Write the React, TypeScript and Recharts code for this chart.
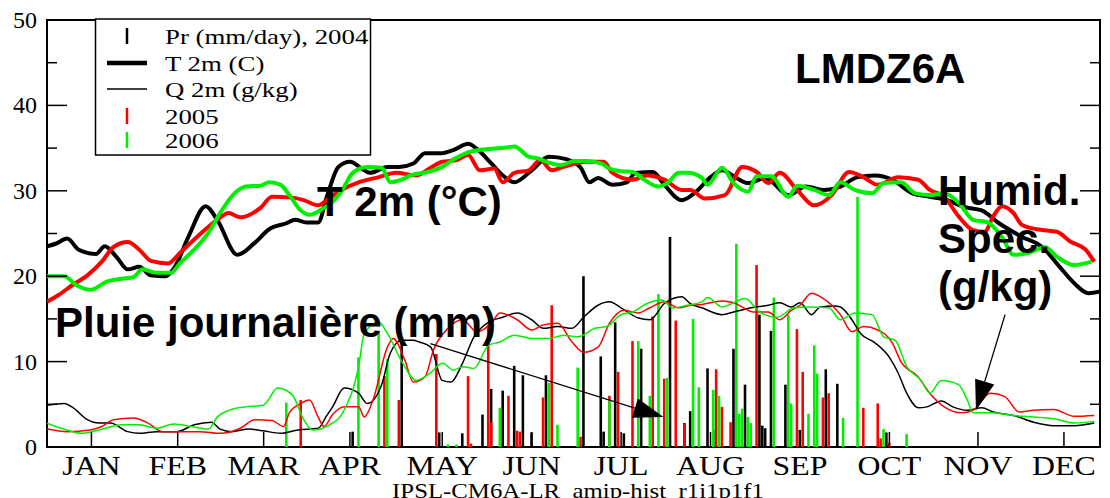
import React from 'react';
import { ComposedChart, Line, Bar, XAxis, YAxis, ReferenceArea, ReferenceLine } from 'recharts';

const SERIF = '"Liberation Serif", "Times New Roman", Times, serif';
const SANS = '"Liberation Sans", Arial, Helvetica, sans-serif';

const MONTHS = ['JAN', 'FEB', 'MAR', 'APR', 'MAY', 'JUN', 'JUL', 'AUG', 'SEP', 'OCT', 'NOV', 'DEC'];
const MONTH_TICKS = [15.4, 45.3, 75.1, 105, 137, 168, 199, 230, 261, 292, 322.7, 352.5];
const Y_TICKS = [0, 5, 10, 15, 20, 25, 30, 35, 40, 45, 50];

// 2 m temperature (°C), [day, value]
const T2004: [number, number][] = [[0,23.5],[3,23.8],[7,24.4],[11,23.1],[17,22.6],[20,23.5],[24,22.3],[28,20.8],[32,21.1],[36,20.1],[41,20.0],[44,20.9],[49,24.6],[55,28.2],[59,26.6],[66,22.5],[72,23.9],[77,25.5],[83,26.2],[86,26.6],[90,26.3],[94,26.3],[97,29.3],[101,32.8],[105,33.4],[110,32.4],[112,32.1],[118,32.8],[122,32.8],[127,33.2],[131,34.4],[137,34.4],[141,34.8],[146,35.5],[149,34.9],[154,33.2],[158,31.8],[162,31.0],[168,32.4],[174,34.0],[180,33.7],[185,32.7],[188,31.0],[191,31.5],[196,30.7],[201,31.0],[204,32.1],[210,32.2],[214,30.7],[220,28.9],[225,29.9],[230,31.6],[234,32.4],[239,31.5],[243,30.9],[249,31.5],[257,29.5],[263,30.5],[269,30.1],[275,30.5],[281,31.6],[287,31.8],[293,31.3],[300,29.7],[306,29.3],[312,28.9],[318,28.1],[324,27.7],[330,26.2],[338,24.6],[345,23.4],[351,21.1],[356,19.2],[361,18.0],[365,18.2]];
const T2005: [number, number][] = [[0,17.0],[4,17.8],[9,19.0],[14,20.1],[19,21.7],[23,23.4],[28,24.0],[32,23.1],[36,21.8],[42,21.5],[46,22.7],[52,24.6],[59,26.6],[63,27.4],[67,26.9],[74,28.0],[78,29.3],[85,29.2],[89,28.9],[94,28.3],[98,29.2],[102,30.1],[108,31.0],[115,31.6],[121,32.1],[128,31.8],[133,32.7],[137,33.4],[142,33.6],[146,34.2],[150,32.4],[155,32.6],[158,31.0],[162,32.1],[167,32.4],[171,33.6],[175,32.4],[179,32.8],[187,33.4],[193,33.4],[196,32.1],[203,31.3],[208,31.8],[214,31.3],[220,30.1],[223,30.1],[228,29.1],[235,29.5],[241,32.8],[246,32.2],[250,30.9],[254,32.1],[260,30.1],[266,28.3],[272,29.5],[278,32.2],[283,31.6],[288,30.7],[295,31.6],[302,31.3],[306,30.1],[311,29.3],[316,27.0],[321,25.4],[325,25.2],[328,27.0],[331,28.2],[335,27.4],[338,26.0],[345,25.4],[350,25.2],[355,24.0],[360,23.1],[363,21.7]];
const T2006: [number, number][] = [[0,20.0],[6,20.0],[10,19.0],[15,18.4],[21,19.4],[26,19.7],[30,19.9],[33,20.8],[38,20.4],[43,20.4],[46,21.5],[51,23.1],[56,25.1],[60,27.4],[65,29.7],[69,30.5],[74,30.6],[77,31.0],[81,30.7],[84,29.5],[88,27.7],[91,27.2],[96,28.0],[99,28.7],[102,29.9],[106,32.1],[111,32.8],[116,32.7],[119,31.0],[123,31.3],[126,31.8],[132,32.2],[137,32.8],[141,33.7],[146,34.5],[153,34.9],[160,35.1],[162,35.2],[167,34.0],[170,33.8],[174,33.3],[178,33.0],[183,33.5],[187,33.5],[192,33.2],[195,32.6],[199,32.3],[203,32.2],[207,31.3],[212,30.5],[215,30.9],[219,32.1],[222,32.1],[227,31.5],[229,30.7],[234,32.7],[238,30.9],[243,29.9],[246,31.7],[251,31.7],[257,29.3],[260,30.6],[266,30.1],[271,29.5],[275,31.0],[280,30.1],[286,29.7],[290,30.9],[296,31.0],[301,29.7],[306,29.5],[311,29.7],[316,28.6],[321,26.6],[326,26.3],[331,24.6],[335,22.5],[340,22.7],[346,23.4],[350,22.3],[356,21.3],[362,21.7]];

// 2 m specific humidity (g/kg), [day, value]
const Q2004: [number, number][] = [[0,4.9],[6,5.1],[9,4.6],[14,3.2],[18,2.8],[22,2.8],[28,1.8],[32,1.6],[38,1.8],[45,1.8],[51,2.6],[57,2.9],[60,2.1],[64,1.8],[70,2.1],[75,1.9],[81,1.6],[87,2.0],[94,2.2],[97,3.7],[99,4.7],[103,6.9],[108,6.3],[111,5.1],[116,7.3],[119,11.0],[123,12.5],[127,12.5],[129,12.3],[133,11.7],[137,7.8],[140,7.6],[144,9.8],[148,12.9],[153,14.6],[158,15.2],[163,15.7],[168,14.9],[172,13.9],[177,14.1],[182,13.9],[186,15.2],[191,16.6],[195,17.0],[199,16.3],[205,15.1],[209,14.9],[214,16.8],[220,17.6],[223,16.8],[227,16.3],[234,15.5],[238,15.8],[244,16.3],[250,16.6],[254,16.9],[258,16.4],[261,16.9],[265,15.5],[268,16.4],[273,16.5],[275,16.4],[279,14.9],[282,13.3],[287,12.2],[292,10.5],[295,8.7],[298,6.3],[302,4.6],[305,4.7],[310,5.4],[314,4.7],[319,4.3],[324,4.6],[328,4.1],[335,3.7],[342,2.9],[349,2.5],[356,2.5],[363,2.8]];
const Q2005: [number, number][] = [[0,2.1],[7,1.8],[15,2.0],[19,2.4],[23,3.2],[30,3.4],[35,2.8],[40,1.8],[46,1.8],[53,1.8],[60,1.6],[67,2.2],[72,3.2],[78,3.1],[82,2.4],[84,4.0],[88,5.1],[91,5.5],[94,3.5],[96,2.4],[99,3.8],[103,4.7],[108,4.7],[110,3.5],[113,5.5],[118,11.7],[120,12.7],[124,10.2],[127,7.6],[131,8.2],[134,11.4],[139,13.9],[144,14.9],[149,13.5],[154,14.5],[157,15.7],[163,14.9],[168,13.7],[172,14.3],[177,14.5],[182,12.3],[186,11.1],[191,11.7],[195,14.5],[200,16.0],[205,15.7],[209,16.3],[214,17.0],[219,16.3],[223,16.6],[227,16.7],[234,17.1],[238,16.9],[245,15.8],[250,15.8],[254,14.9],[258,16.0],[261,16.6],[265,18.0],[269,17.4],[275,15.5],[279,13.5],[283,14.1],[288,13.7],[293,12.2],[296,10.0],[302,8.2],[306,6.3],[311,4.7],[317,4.0],[321,4.3],[327,6.3],[332,5.9],[337,4.1],[342,4.3],[349,4.4],[356,3.6],[363,3.7]];
const Q2006: [number, number][] = [[0,2.8],[5,2.2],[12,1.6],[18,2.0],[26,2.6],[32,2.6],[38,2.2],[44,2.7],[50,2.4],[56,2.1],[59,3.5],[65,4.5],[69,4.7],[75,4.9],[80,6.9],[85,6.1],[89,3.2],[92,2.0],[98,2.6],[103,4.3],[108,9.4],[110,13.3],[115,14.6],[118,13.3],[123,10.0],[128,7.8],[133,8.7],[137,9.8],[141,9.0],[144,9.4],[148,9.2],[153,11.9],[157,12.3],[162,13.1],[168,12.7],[174,12.7],[179,13.1],[184,12.9],[190,13.9],[194,14.1],[199,15.5],[203,15.8],[208,16.8],[213,17.2],[217,16.3],[222,16.6],[227,17.0],[229,17.5],[234,16.4],[242,17.4],[247,15.8],[253,15.2],[259,16.3],[264,16.4],[271,16.3],[275,14.9],[280,15.7],[286,15.5],[290,12.9],[294,12.5],[298,9.4],[303,7.8],[306,6.3],[310,7.8],[316,7.3],[319,5.5],[321,4.0],[327,4.0],[335,3.7],[342,3.5],[349,3.3],[356,2.8],[363,3.0]];

// daily precipitation (mm/day), [day, value]
const P2004: [number, number][] = [[106,1.8],[123,12.5],[136,1.7],[144,1.6],[151,3.8],[154,6.8],[158,6.6],[162,9.5],[165,8.4],[168,1.7],[173,8.4],[186,20.0],[192,10.6],[193,1.8],[197,14.6],[200,1.6],[206,11.5],[216,24.6],[221,2.8],[223,4.2],[229,9.2],[231,2.0],[238,11.5],[242,7.3],[247,15.5],[248,2.5],[249,2.2],[251,13.6],[256,7.3],[261,2.0],[270,9.1],[274,7.4],[291,1.7]];
const P2005: [number, number][] = [[88,5.5],[117,8.3],[122,5.5],[135,10.9],[146,8.3],[147,0.4],[153,14.3],[154,2.9],[160,6.0],[163,1.9],[164,1.8],[172,5.8],[175,16.6],[185,1.2],[195,6.0],[198,8.8],[203,12.4],[210,15.3],[214,8.0],[218,14.8],[221,2.7],[232,9.1],[234,4.7],[237,2.9],[246,21.3],[260,13.8],[262,8.8],[269,5.8],[271,6.3],[283,4.6],[288,5.1],[289,1.0],[292,0.5]];
const P2006: [number, number][] = [[83,5.2],[108,10.5],[115,13.5],[118,10.3],[139,0.3],[142,0.3],[157,4.6],[174,7.5],[177,2.6],[184,9.3],[195,5.5],[205,12.4],[209,6.0],[212,17.9],[215,8.1],[224,15.0],[226,7.0],[231,6.7],[233,6.0],[239,23.8],[240,3.9],[241,4.5],[243,3.5],[244,2.8],[252,17.5],[257,15.5],[258,5.1],[264,3.9],[266,11.9],[267,8.6],[276,3.4],[281,29.3],[290,2.1],[298,1.5]];

// annotation arrows, in data coordinates [day, value]
const ARROW_RAIN: [number, number][] = [[132.9, 12.1], [213.7, 3.5]];
const ARROW_HUM: [number, number][] = [[332.1, 15.5], [322, 4.3]];

const SERIES: [string, [number, number][]][] = [
  ['t04', T2004], ['t05', T2005], ['t06', T2006],
  ['q04', Q2004], ['q05', Q2005], ['q06', Q2006],
  ['p04', P2004], ['p05', P2005], ['p06', P2006],
];

const rows: Record<string, number | null>[] = [];
for (let d = 0; d <= 365; d++) {
  const r: Record<string, number | null> = { day: d };
  SERIES.forEach(([k]) => { r[k] = null; });
  rows.push(r);
}
SERIES.forEach(([k, pts]) => pts.forEach(([d, v]) => { rows[d][k] = v; }));

const BLACK = '#000000';
const RED = '#ff0000';
const GREEN = '#00ee00';

const CHART_H = 498;
const X_AXIS_H = 51;
const PLOT_BOTTOM = CHART_H - X_AXIS_H;

const LeftTick = (props: any) => {
  const { x, y, payload } = props;
  const v = payload.value;
  const major = v % 10 === 0;
  return (
    <g>
      <line x1={x} x2={x + (major ? 20 : 10)} y1={y} y2={y} stroke="#000" strokeWidth={1.5} />
      {major && (
        <text x={x - 10} y={y + 8} textAnchor="end" fontFamily={SERIF} fontSize={24} fill="#000">{v}</text>
      )}
    </g>
  );
};

const RightTick = (props: any) => {
  const { x, y, payload } = props;
  const major = payload.value % 10 === 0;
  return <line x1={x - (major ? 20 : 10)} x2={x} y1={y} y2={y} stroke="#000" strokeWidth={1.5} />;
};

const MonthTick = (props: any) => {
  const { x, index } = props;
  const y = PLOT_BOTTOM;
  return (
    <g>
      <line x1={x} x2={x} y1={y} y2={y - 15} stroke="#000" strokeWidth={1.5} />
      <text transform={`translate(${x},${y + 28}) scale(1.18,1)`} textAnchor="middle" fontFamily={SERIF} fontSize={27} fill="#000">
        {MONTHS[index]}
      </text>
    </g>
  );
};

const arrowShape = (p: any) => {
  const { x1, y1, x2, y2 } = p;
  const dx = x2 - x1;
  const dy = y2 - y1;
  const len = Math.hypot(dx, dy) || 1;
  const ux = dx / len;
  const uy = dy / len;
  const L = 30;
  const W = 10;
  const bx = x2 - ux * L;
  const by = y2 - uy * L;
  const pts = `${x2},${y2} ${bx - uy * W},${by + ux * W} ${bx + uy * W},${by - ux * W}`;
  return (
    <g>
      <line x1={x1} y1={y1} x2={bx} y2={by} stroke="#000" strokeWidth={1.3} />
      <polygon points={pts} fill="#000" />
    </g>
  );
};

const serifText = (x: number, y: number, s: string, size = 22, sx = 1.22) => (
  <text transform={`translate(${x},${y}) scale(${sx},1)`} fontFamily={SERIF} fontSize={size} fill="#000">{s}</text>
);

const boldText = (x: number, y: number, s: string) => (
  <text x={x} y={y} fontFamily={SANS} fontWeight="bold" fontSize={42} fill="#000">{s}</text>
);

export default function App() {
  return (
    <div style={{ position: 'absolute', left: 0, top: 0, width: 1110, height: CHART_H, background: '#fff', overflow: 'hidden' }}>
      <ComposedChart width={1110} height={CHART_H} data={rows} margin={{ top: 20, right: 0, bottom: 0, left: 0 }}>
        <XAxis xAxisId="main" dataKey="day" type="number" domain={[0, 365]} ticks={MONTH_TICKS} interval={0}
          height={X_AXIS_H} axisLine={false} tickLine={false} tickSize={0} tickMargin={0} tick={<MonthTick />} allowDataOverflow />
        <XAxis xAxisId="b04" dataKey="day" type="number" domain={[0, 365]} hide allowDataOverflow />
        <XAxis xAxisId="b05" dataKey="day" type="number" domain={[0, 365]} hide allowDataOverflow />
        <XAxis xAxisId="b06" dataKey="day" type="number" domain={[0, 365]} hide allowDataOverflow />
        <YAxis yAxisId="left" width={47} domain={[0, 50]} ticks={Y_TICKS} interval={0} axisLine={false}
          tickLine={false} tickSize={0} tickMargin={0} tick={<LeftTick />} allowDataOverflow />
        <YAxis yAxisId="right" orientation="right" width={10} domain={[0, 50]} ticks={Y_TICKS} interval={0}
          axisLine={false} tickLine={false} tickSize={0} tickMargin={0} tick={<RightTick />} allowDataOverflow />

        <Bar xAxisId="b04" yAxisId="left" dataKey="p04" fill={BLACK} barSize={3} isAnimationActive={false} />
        <Bar xAxisId="b05" yAxisId="left" dataKey="p05" fill={RED} barSize={3} isAnimationActive={false} />
        <Bar xAxisId="b06" yAxisId="left" dataKey="p06" fill={GREEN} barSize={3} isAnimationActive={false} />

        <Line xAxisId="main" yAxisId="left" type="monotone" dataKey="q04" stroke={BLACK} strokeWidth={1.5} dot={false} connectNulls isAnimationActive={false} />
        <Line xAxisId="main" yAxisId="left" type="monotone" dataKey="q05" stroke={RED} strokeWidth={1.5} dot={false} connectNulls isAnimationActive={false} />
        <Line xAxisId="main" yAxisId="left" type="monotone" dataKey="q06" stroke={GREEN} strokeWidth={1.5} dot={false} connectNulls isAnimationActive={false} />
        <Line xAxisId="main" yAxisId="left" type="monotone" dataKey="t04" stroke={BLACK} strokeWidth={4} dot={false} connectNulls isAnimationActive={false} />
        <Line xAxisId="main" yAxisId="left" type="monotone" dataKey="t05" stroke={RED} strokeWidth={4} dot={false} connectNulls isAnimationActive={false} />
        <Line xAxisId="main" yAxisId="left" type="monotone" dataKey="t06" stroke={GREEN} strokeWidth={4} dot={false} connectNulls isAnimationActive={false} />

        <ReferenceLine xAxisId="main" yAxisId="left" ifOverflow="visible"
          segment={[{ x: ARROW_RAIN[0][0], y: ARROW_RAIN[0][1] }, { x: ARROW_RAIN[1][0], y: ARROW_RAIN[1][1] }]} shape={arrowShape} />
        <ReferenceLine xAxisId="main" yAxisId="left" ifOverflow="visible"
          segment={[{ x: ARROW_HUM[0][0], y: ARROW_HUM[0][1] }, { x: ARROW_HUM[1][0], y: ARROW_HUM[1][1] }]} shape={arrowShape} />
        <ReferenceArea xAxisId="main" yAxisId="left" x1={0} x2={365} y1={0} y2={50} fill="none" fillOpacity={0}
          stroke="#000" strokeWidth={2} ifOverflow="visible" />
      </ComposedChart>

      <svg width={1110} height={CHART_H} style={{ position: 'absolute', left: 0, top: 0, pointerEvents: 'none' }}>
        <rect x={95.5} y={19} width={275} height={136} fill="#fff" stroke="#000" strokeWidth={1.5} />
        <line x1={127} x2={127} y1={28} y2={44} stroke={BLACK} strokeWidth={2.5} />
        {serifText(165, 44, 'Pr (mm/day), 2004')}
        <line x1={107} x2={147} y1={63} y2={63} stroke={BLACK} strokeWidth={4.5} />
        {serifText(165, 70.5, 'T 2m (C)')}
        <line x1={107} x2={147} y1={89} y2={89} stroke={BLACK} strokeWidth={1.5} />
        {serifText(165, 97, 'Q 2m (g/kg)')}
        <line x1={127} x2={127} y1={108} y2={124} stroke={RED} strokeWidth={2.5} />
        {serifText(165, 124, '2005')}
        <line x1={127} x2={127} y1={132} y2={148} stroke={GREEN} strokeWidth={2.5} />
        {serifText(165, 148, '2006')}

        {boldText(795, 83, 'LMDZ6A')}
        {boldText(317, 216, 'T 2m (°C)')}
        {boldText(55, 337, 'Pluie journalière (mm)')}
        {boldText(938, 205, 'Humid.')}
        {boldText(938, 253, 'Spec.')}
        {boldText(938, 301, '(g/kg)')}

        <text transform="translate(578,498) scale(1.24,1)" textAnchor="middle" fontFamily={SERIF} fontSize={20} fill="#000"
          style={{ whiteSpace: 'pre' }}>
          {'IPSL-CM6A-LR  amip-hist  r1i1p1f1'}
        </text>
      </svg>
    </div>
  );
}
